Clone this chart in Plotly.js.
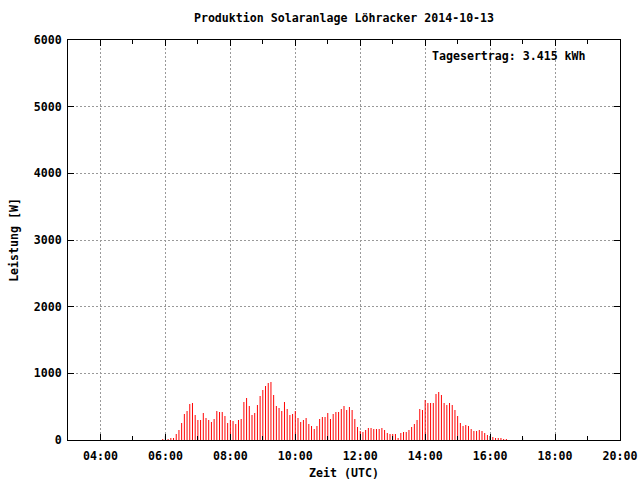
<!DOCTYPE html>
<html>
<head>
<meta charset="utf-8">
<script src="https://cdn.plot.ly/plotly-3.0.1.min.js"></script>
<style>html,body{margin:0;padding:0;background:#fff}#chart{width:640px;height:480px}</style>
</head>
<body>
<div id="chart"></div>
<script>
const day = "2014-10-13";
const times = [
"05:55","06:00","06:05","06:10","06:15","06:20","06:25","06:30","06:35","06:40","06:45","06:50","06:55",
"07:00","07:05","07:10","07:15","07:20","07:25","07:30","07:35","07:40","07:45","07:50","07:55",
"08:00","08:05","08:10","08:15","08:20","08:25","08:30","08:35","08:40","08:45","08:50","08:55",
"09:00","09:05","09:10","09:15","09:20","09:25","09:30","09:35","09:40","09:45","09:50","09:55",
"10:00","10:05","10:10","10:15","10:20","10:25","10:30","10:35","10:40","10:45","10:50","10:55",
"11:00","11:05","11:10","11:15","11:20","11:25","11:30","11:35","11:40","11:45","11:50","11:55",
"12:00","12:05","12:10","12:15","12:20","12:25","12:30","12:35","12:40","12:45","12:50","12:55",
"13:00","13:05","13:10","13:15","13:20","13:25","13:30","13:35","13:40","13:45","13:50","13:55",
"14:00","14:05","14:10","14:15","14:20","14:25","14:30","14:35","14:40","14:45","14:50","14:55",
"15:00","15:05","15:10","15:15","15:20","15:25","15:30","15:35","15:40","15:45","15:50","15:55",
"16:00","16:05","16:10","16:15","16:20","16:25","16:30"
];
const power = [
15,null,15,30,30,90,150,255,390,435,540,555,375,
300,300,405,330,300,270,315,435,420,420,360,255,
300,285,240,300,315,570,630,510,375,405,525,660,
750,810,855,870,675,510,480,435,570,465,375,390,
435,330,270,300,330,240,210,165,210,315,345,345,
405,315,390,420,420,465,510,450,495,450,315,195,
135,120,150,180,180,165,165,165,180,150,105,90,
90,90,30,105,120,120,150,195,240,300,465,450,
600,555,555,555,690,720,675,555,525,555,525,450,
360,255,210,225,210,165,135,135,150,135,105,75,
null,45,30,30,30,15,15
];
const markTimes = ["06:00","16:00","17:00"];
const markPower = [60,60,30];

const annotationText = "Tagesertrag: 3.415 kWh";
const titleText = "Produktion Solaranlage Löhracker 2014-10-13";

const toDate = t => day + " " + t;
const F = {family: "DejaVu Sans Mono", size: 11.6, color: "#000", weight: "bold"};
const barW = 110000;

const traces = [
  {type: "bar", x: times.map(toDate), y: power, width: barW,
   marker: {color: "#ff0000", line: {width: 0}}, hoverinfo: "x+y"},
  {type: "bar", x: markTimes.map(toDate), y: markPower, width: barW,
   marker: {color: "#000000", line: {width: 0}}, hoverinfo: "x+y"}
];

const axisCommon = {
  ticks: "inside", ticklen: 6, tickcolor: "#000", tickwidth: 1,
  showgrid: true, gridcolor: "#999999", griddash: "2px,2px", gridwidth: 1,
  showline: true, linecolor: "#000", linewidth: 1, mirror: "allticks",
  zeroline: false, tickfont: F
};

const layout = {
  width: 640, height: 480,
  margin: {l: 68, r: 20, t: 40, b: 40, pad: 0},
  paper_bgcolor: "#fff", plot_bgcolor: "#fff",
  showlegend: false, barmode: "overlay",
  font: F,
  title: {text: titleText, font: F, xref: "paper", x: 0.5, xanchor: "center",
          yref: "container", y: 1 - 18/480, yanchor: "middle"},
  xaxis: Object.assign({}, axisCommon, {
    type: "date",
    range: [toDate("03:00"), toDate("20:00")],
    tick0: toDate("00:00"), dtick: 7200000, tickformat: "%H:%M",
    ticklabelstandoff: 5,
    minor: {dtick: 3600000, ticks: "inside", ticklen: 4, tickcolor: "#000", showgrid: false},
    title: {text: "Zeit (UTC)", font: F, standoff: 8}
  }),
  yaxis: Object.assign({}, axisCommon, {
    range: [0, 6000], dtick: 1000, tick0: 0,
    ticklabelstandoff: 3,
    title: {text: "Leistung [W]", font: F, standoff: 12}
  }),
  annotations: [{
    text: annotationText, xref: "paper", yref: "paper",
    x: (588 - 68) / 552, y: (440 - 56) / 400, xanchor: "right", yanchor: "middle",
    showarrow: false, font: F
  }]
};

Plotly.newPlot("chart", traces, layout, {staticPlot: true, displayModeBar: false});
</script>
</body>
</html>
